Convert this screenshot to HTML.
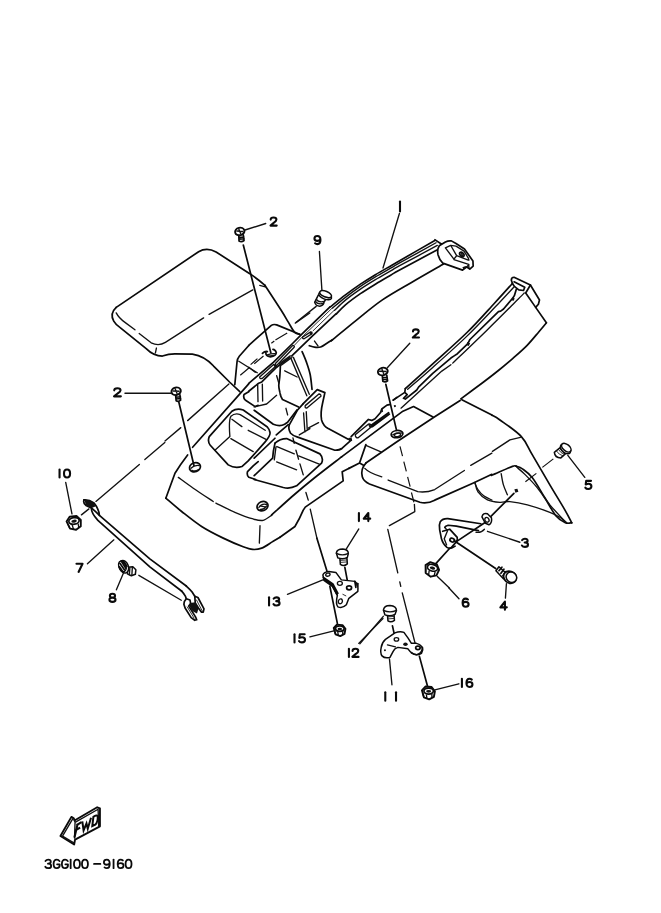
<!DOCTYPE html>
<html><head><meta charset="utf-8"><title>Parts diagram</title>
<style>
html,body{margin:0;padding:0;background:#fff;}
svg{display:block;position:absolute;left:0;top:0;}
svg *{vector-effect:non-scaling-stroke;}
.k{fill:none;stroke:#0a0a0a;stroke-width:1.7;stroke-linecap:round;stroke-linejoin:round;}
.m{fill:none;stroke:#111;stroke-width:1.35;stroke-linecap:round;stroke-linejoin:round;}
.t{fill:none;stroke:#1a1a1a;stroke-width:0.9;stroke-linecap:round;stroke-linejoin:round;}
.d{fill:none;stroke:#111;stroke-width:1.2;stroke-linecap:butt;}
.f{fill:#111;stroke:none;}
.w{fill:#fff;stroke:#0a0a0a;stroke-width:1.5;stroke-linejoin:round;}
.wt{fill:#fff;stroke:#111;stroke-width:1.1;stroke-linejoin:round;}
.g{fill:none;stroke:#0a0a0a;stroke-width:2.1;stroke-linecap:round;stroke-linejoin:round;}
</style></head><body>
<svg width="661" height="913" viewBox="0 0 661 913">
<defs>
<path id="n1" d="M3.5 0 L3.5 10"/>
<path id="n2" d="M0.5 2.6 Q0.5 0 3.5 0 Q6.5 0 6.5 2.6 Q6.5 4.4 4 6.2 L0.3 10 L6.8 10"/>
<path id="n3" d="M0.5 1.6 Q1.5 0 3.5 0 Q6.3 0 6.3 2.4 Q6.3 4.7 3.2 4.7 Q6.7 4.7 6.7 7.3 Q6.7 10 3.5 10 Q1.2 10 0.3 8.3"/>
<path id="n4" d="M5 10 L5 0 L0.2 7 L7 7"/>
<path id="n5" d="M6.3 0 L1.2 0 L0.7 4.5 Q2 3.6 3.6 3.6 Q6.7 3.6 6.7 6.8 Q6.7 10 3.4 10 Q1.2 10 0.3 8.3"/>
<path id="n6" d="M6 1 Q5 0 3.6 0 Q0.4 0 0.4 5 Q0.4 10 3.6 10 Q6.7 10 6.7 6.9 Q6.7 4 3.6 4 Q1.2 4 0.5 6"/>
<path id="n7" d="M0.3 0 L6.7 0 L2.5 10"/>
<path id="n8" d="M3.5 4.7 Q0.8 4.7 0.8 2.3 Q0.8 0 3.5 0 Q6.2 0 6.2 2.3 Q6.2 4.7 3.5 4.7 Q0.3 4.7 0.3 7.4 Q0.3 10 3.5 10 Q6.7 10 6.7 7.4 Q6.7 4.7 3.5 4.7"/>
<path id="n9" d="M1 9 Q2 10 3.4 10 Q6.6 10 6.6 5 Q6.6 0 3.4 0 Q0.3 0 0.3 3.1 Q0.3 6 3.4 6 Q5.8 6 6.5 4"/>
<path id="n0" d="M3.5 0 Q0.3 0 0.3 5 Q0.3 10 3.5 10 Q6.7 10 6.7 5 Q6.7 0 3.5 0 Z"/>
<path id="nG" d="M6.5 1.8 Q5.5 0 3.7 0 Q0.3 0 0.3 5 Q0.3 10 3.7 10 Q6.7 10 6.7 6.5 L6.7 5.5 L4 5.5"/>
<path id="nd" d="M0.5 5 L6.5 5"/>
<g id="nut">
<path d="M-25 -8 L-11 -23 L14 -21 L27 -4 L23 18 L4 28 L-17 20 Z" fill="#fff" stroke="#0a0a0a" stroke-width="1.9" stroke-linejoin="round"/>
<ellipse cx="2" cy="-5" rx="19" ry="12" fill="#fff" stroke="#0a0a0a" stroke-width="1.7"/>
<ellipse cx="2" cy="-4" rx="10" ry="5.5" fill="#111"/>
<path d="M-7 9 L-5 24 M15 7 L15 23 M-22 2 L-18 18" fill="none" stroke="#0a0a0a" stroke-width="1.3"/>
</g>
</defs>
<rect x="0" y="0" width="661" height="913" fill="#ffffff"/>
<g id="a_leftfender" transform="translate(100,220) scale(0.24962)">
<path class="k" d="M65 350 L395 127 Q428 108 465 128 L600 215 Q634 238 661 262"/>
<path class="k" d="M65 350 Q38 375 55 405 Q62 418 82 432 L185 515 Q215 545 250 545 Q275 536 300 536 L370 537 Q420 545 455 585 L520 650 L560 688"/>
<path class="m" d="M65 372 Q75 392 100 410 L140 440 M157 455 L205 492 Q235 507 262 490 L415 392 M437 378 L612 280 M640 262 L662 268"/>
<path class="m" d="M226 513 L222 532"/>
<ellipse class="w" style="stroke-width:1.9" cx="560" cy="46" rx="19" ry="15" transform="rotate(-15 560 46)"/>
<path class="m" d="M548 44 L572 46 M556 36 L564 56"/>
<path class="k" d="M556 62 L557 84 Q567 90 577 82 L574 60 M557 70 L576 68 M557 77 L577 75"/>
<path class="m" d="M581 40 L664 14"/>
<ellipse class="w" style="stroke-width:1.9" cx="305" cy="686" rx="19" ry="15" transform="rotate(-15 305 686)"/>
<path class="m" d="M293 685 L317 686 M301 676 L309 696"/>
<path class="k" d="M303 702 L305 724 Q314 730 323 722 L320 700 M304 710 L322 708 M305 717 L323 715"/>
<path class="m" d="M100 694 L286 694"/>
<use href="#n2" class="g" transform="translate(55,674) scale(4.2,3.25)"/>
<path class="k" d="M596 503 L558 546 Q550 556 549 568 L540 660"/>
<path class="m" d="M556 566 L630 612"/>
<path class="d" d="M562 622 L600 590 M618 576 L655 545"/>
</g>
<g id="b_arm" transform="translate(320,225) scale(0.24962)">
<path class="k" d="M41.0 328.0 C51.2 320.0 81.8 295.2 102.0 280.0 C122.2 264.8 142.0 250.5 162.0 237.0 C182.0 223.5 201.8 211.2 222.0 199.0 C242.2 186.8 266.8 173.3 283.0 164.0 C299.2 154.7 289.5 160.0 319.0 143.0 C348.5 126.0 436.5 75.5 460.0 62.0"/>
<path class="m" d="M50.0 333.0 C58.7 325.8 83.3 304.5 102.0 290.0 C120.7 275.5 142.0 259.7 162.0 246.0 C182.0 232.3 201.8 220.2 222.0 208.0 C242.2 195.8 266.8 182.3 283.0 173.0 C299.2 163.7 288.7 169.0 319.0 152.0 C349.3 135.0 440.7 84.5 465.0 71.0"/>
<path class="m" d="M58.0 342.0 C65.3 335.2 84.7 315.2 102.0 301.0 C119.3 286.8 142.0 270.7 162.0 257.0 C182.0 243.3 201.8 231.2 222.0 219.0 C242.2 206.8 266.8 193.3 283.0 184.0 C299.2 174.7 287.8 180.0 319.0 163.0 C350.2 146.0 444.8 95.5 470.0 82.0"/>
<path class="k" d="M66.0 356.0 C72.0 350.0 86.0 333.5 102.0 320.0 C118.0 306.5 142.0 288.8 162.0 275.0 C182.0 261.2 201.8 249.3 222.0 237.0 C242.2 224.7 266.8 210.5 283.0 201.0 C299.2 191.5 286.8 197.5 319.0 180.0 C351.2 162.5 449.8 110.0 476.0 96.0"/>
<path class="k" d="M45.0 464.0 C62.5 449.7 115.8 405.3 150.0 378.0 C184.2 350.7 213.3 325.0 250.0 300.0 C286.7 275.0 329.2 252.0 370.0 228.0 C410.8 204.0 474.2 168.0 495.0 156.0"/>
</g>
<g id="c_junction" transform="translate(250,310) scale(0.12405)">
<path class="k" d="M120.0 -200.0 C141.7 -166.7 218.3 -50.0 250.0 0.0 C281.7 50.0 291.7 70.0 310.0 100.0 C328.3 130.0 344.7 164.0 360.0 180.0 C375.3 196.0 395.0 193.3 402.0 196.0"/>
<path class="k" d="M400 196 L215 120 Q190 112 172 124 L-10 285"/>
<path class="m" d="M-10 462 L42 502"/>
<path class="d" d="M300 186 L205 242 M196 250 L172 268 M60 392 L5 440"/>
<path class="m" d="M365 106 L482 24"/>
<path class="k" d="M-54 -524 L168 345"/>
<path class="k" d="M100 350 Q120 330 140 335 M128 345 Q125 370 165 378 Q210 372 212 345 Q205 320 185 318"/>
<path class="m" d="M140 362 Q170 350 205 352 M150 372 L195 366"/>
<path class="k" d="M643 -24 L420 192 L345 268 L190 420 L-10 592"/>
<path class="t" d="M661 -14 L432 206 L362 280"/>
<path class="t" d="M677 4 L508 168"/>
<path class="k" d="M693 32 L500 212 L335 372 L232 448 L205 470 L95 580 L70 590 L-10 655"/>
<path class="m" d="M425 218 L490 176 Q505 180 498 192 L436 232 Q420 232 425 218 Z"/>
<path class="f" d="M478 178 L498 176 L502 192 L488 200 Z"/>
<path class="m" d="M205 432 L345 285 Q362 285 356 300 L215 448 Q198 450 205 432 Z"/>
<path class="m" d="M78 540 L190 440 L205 455 L98 552 Q78 558 78 540 Z"/>
<path class="f" d="M190 440 L210 436 L222 460 L205 472 Z"/>
<path class="m" d="M240 430 L322 372 L335 384 L252 444 Q238 446 240 430 Z"/>
<circle class="wt" cx="330" cy="378" r="9"/>
<path class="m" d="M330 390 L458 692 M350 382 L478 680"/>
<path class="k" d="M420.0 335.0 C425.8 349.2 444.2 389.2 455.0 420.0 C465.8 450.8 477.5 483.3 485.0 520.0 C492.5 556.7 497.5 620.0 500.0 640.0"/>
<path class="k" d="M245.0 450.0 C244.2 465.0 242.2 513.3 240.0 540.0 C237.8 566.7 232.0 590.0 232.0 610.0 C232.0 630.0 238.7 651.7 240.0 660.0"/>
<path class="f" d="M236 655 Q250 660 256 700 L244 704 Q232 680 236 655 Z"/>
<path class="k" d="M252 702 L262 722 L392 782"/>
<path class="m" d="M280 490 L380 540"/>
<path class="m" d="M215 530 L232 590"/>
<path class="k" d="M478.0 288.0 C485.0 290.0 504.7 298.3 520.0 300.0 C535.3 301.7 553.3 303.3 570.0 298.0 C586.7 292.7 604.2 277.7 620.0 268.0 C635.8 258.3 657.5 244.7 665.0 240.0"/>
<path class="m" d="M520 250 L548 290"/>
</g>
<g id="d_tileB" transform="translate(265,220) scale(0.24962)">
<use href="#n9" class="g" transform="translate(197,64) scale(3.8,3.25)"/>
<path class="m" d="M218 126 L228 282"/>
<path class="w" d="M214 300 L199 330 Q204 346 222 345 Q236 340 236 330 L250 306 Z"/>
<path class="m" d="M206 318 Q214 332 238 326 M202 326 Q210 340 234 334"/>
<ellipse class="w" cx="241" cy="304" rx="27" ry="13" transform="rotate(22 241 304)"/>
<ellipse class="w" cx="243" cy="297" rx="25" ry="11.5" transform="rotate(22 243 297)"/>
<path class="m" d="M205 346 L125 410"/>
<use href="#n2" class="g" transform="translate(21,-10) scale(3.8,3.25)"/>
<ellipse class="w" style="stroke-width:1.9" cx="472" cy="607" rx="20" ry="15" transform="rotate(-15 472 607)"/>
<path class="m" d="M459 606 L485 607 M468 596 L476 618"/>
<path class="k" d="M470 624 L472 646 Q482 652 491 644 L488 622 M471 632 L489 630 M472 640 L490 638"/>
<use href="#n2" class="g" transform="translate(591,438) scale(3.8,3.25)"/>
<path class="m" d="M580 494 L490 592"/>
<path class="k" d="M484 658 L527 843"/>
</g>
<g id="e_rightarm" transform="translate(440,260) scale(0.18154)">
<path class="k" d="M399 130 L393 112 Q392 96 408 95 L498 138 L548 220 L542 244 L527 261 L586 346"/>
<path class="k" d="M399 130 L411 147 L434 165 L460 168 L467 150 L408 120 M498 138 L472 182 L527 261"/>
<path class="k" d="M396.0 132.0 C380.0 149.7 341.0 193.7 300.0 238.0 C259.0 282.3 206.7 342.3 150.0 398.0 C93.3 453.7 16.8 520.2 -40.0 572.0 C-96.8 623.8 -165.8 686.2 -191.0 709.0"/>
<path class="m" d="M406.0 150.0 C389.2 168.0 347.7 213.3 305.0 258.0 C262.3 302.7 207.5 362.3 150.0 418.0 C92.5 473.7 14.7 543.0 -40.0 592.0 C-94.7 641.0 -155.0 692.0 -178.0 712.0"/>
<path class="k" d="M420 162 L410 196 L398 214 M404 206 L350 270 L334 282 L322 284 L165 438 L152 462 L96 516 L78 528 L60 540 L-40 625 L-118 700 L-128 716 L-191 766 L-201 762 L-181 742 L-194 729 L-191 709 M-194 729 L-258 772"/>
<path class="f" d="M398 205 L412 212 L404 226 L394 220 Z M150 452 L166 458 L158 474 L146 468 Z"/>
<path class="m" d="M464.0 182.0 C458.3 187.7 464.0 182.2 430.0 216.0 C396.0 249.8 320.0 326.3 260.0 385.0 C200.0 443.7 101.7 537.5 70.0 568.0"/>
<path class="m" d="M60 577 L10 612 L-215 816"/>
<path class="k" d="M586.0 346.0 C579.2 354.2 562.7 374.3 545.0 395.0 C527.3 415.7 504.2 445.3 480.0 470.0 C455.8 494.7 426.7 519.7 400.0 543.0 C373.3 566.3 346.7 588.5 320.0 610.0 C293.3 631.5 274.2 646.2 240.0 672.0 C205.8 697.8 135.8 749.5 115.0 765.0"/>
</g>
<g id="f_trayleft" transform="translate(160,395) scale(0.16641)">
<path class="k" d="M533 -67 L196 314 M166 360 Q120 420 90 470 L35 620"/>
<path class="k" d="M35.0 620.0 C50.8 633.3 94.2 671.7 130.0 700.0 C165.8 728.3 208.3 763.3 250.0 790.0 C291.7 816.7 338.3 839.7 380.0 860.0 C421.7 880.3 470.5 900.7 500.0 912.0 C529.5 923.3 538.5 926.7 557.0 928.0 C575.5 929.3 591.0 927.8 611.0 920.0 C631.0 912.2 658.7 891.8 677.0 881.0 C695.3 870.2 713.7 859.3 721.0 855.0"/>
<path class="m" d="M110.0 495.0 C125.0 505.8 165.0 535.8 200.0 560.0 C235.0 584.2 300.0 626.7 320.0 640.0"/>
<path class="m" d="M336.0 650.0 C355.0 659.2 412.7 689.2 450.0 705.0 C487.3 720.8 531.7 737.0 560.0 745.0 C588.3 753.0 601.3 756.8 620.0 753.0 C638.7 749.2 663.3 727.2 672.0 722.0"/>
<path class="m" d="M601 786 L597 890"/>
<ellipse class="k" cx="210" cy="434" rx="34" ry="27" transform="rotate(-20 210 434)"/>
<path class="m" d="M186 440 Q205 420 236 424 M192 452 Q210 462 232 448"/>
<ellipse class="k" cx="616" cy="668" rx="34" ry="27" transform="rotate(-25 616 668)"/>
<path class="m" d="M594 676 Q610 650 640 658 M602 688 Q625 690 640 668 M606 668 L632 672"/>
<path class="k" d="M645 192 L500 90 Q462 76 432 98 L296 250 Q284 278 302 302 L410 420 Q450 444 492 430 L530 396 L632 282 Q668 240 660 222 Q656 204 645 192 Z"/>
<path class="m" d="M632 212 L482 118 Q450 106 426 128 Q412 150 420 250 L330 332 M426 262 L560 340 M432 146 L492 190 M530 212 L640 268"/>
<path class="k" d="M590 400 L560 426 L526 460 Q520 484 534 494 L575 508"/>
<path class="k" d="M533 -19 L505 -3 Q498 20 514 32 L572 70 L590 62"/>
<path class="k" d="M113 42 L204 424"/>
<path class="m" d="M30 276 L125 196 M166 154 L414 -66"/>
</g>
<g id="g_trayright" transform="translate(255,385) scale(0.16641)">
<path class="k" d="M290 112 L374 28 L420 46 L406 110 Q392 170 400 210 Q410 245 440 262 L560 326 L578 330"/>
<path class="m" d="M302 124 L384 54 Q398 54 396 68 L312 138 Q298 140 302 124 Z"/>
<path class="k" d="M290 112 L256 150 L206 240 Q198 262 214 290 Q230 306 252 312 L480 392 Q510 392 524 380 L566 342 L578 328"/>
<path class="m" d="M292 168 L300 282 M308 160 L314 270 M266 300 L330 262 M322 258 L382 226"/>
<path class="k" d="M-5 152 L110 236 Q150 252 178 236 L196 224 L252 150"/>
<path class="m" d="M186 140 L196 180 M16 -5 L18 100 M44 -5 L46 96"/>
<path class="m" d="M-5 132 L70 114 L130 62"/>
<path class="k" d="M-5 440 L120 320 M200 238 L128 300"/>
<path class="k" d="M120 350 Q150 322 190 322 L390 414 Q414 440 400 470 L250 606 Q210 626 170 616 L-5 568"/>
<path class="k" d="M120 350 Q108 400 106 440 L-5 545"/>
<path class="m" d="M132 370 L236 414 M262 426 L386 476 M130 462 L250 510 M126 372 L116 450"/>
<path class="m" d="M228 318 L236 350 M246 392 L262 446 M270 474 L290 540 M306 646 L320 692 M332 746 L372 920"/>
<path class="k" d="M100.0 781.0 C121.7 761.5 186.7 701.5 230.0 664.0 C273.3 626.5 311.7 594.7 360.0 556.0 C408.3 517.3 493.3 452.7 520.0 432.0"/>
<path class="k" d="M150 915 L240 850 Q270 800 290 752 L302 734 L530 576 L524 522 L566 500"/>
<path class="f" d="M560 318 L580 316 L584 336 L566 340 Z"/>
</g>
<g id="h_rfenderL" transform="translate(350,390) scale(0.21180)">
<path class="k" d="M75 345 L225 242 L400 126 L520 50"/>
<path class="k" d="M528 46 L670 118"/>
<path class="k" d="M75 345 Q48 375 58 410 Q64 432 92 444 L330 530 Q366 538 400 520 L580 440 L670 398"/>
<path class="m" d="M70 370 Q90 392 150 410 M180 425 L320 480 Q360 486 400 470 L540 380 M570 356 L670 298"/>
<path class="k" d="M-40 316 L250 100 L300 78 L392 128"/>
<path class="k" d="M75 258 L45 345 L-5 370 M45 345 L66 356"/>
<path class="m" d="M75 262 L146 292"/>
<ellipse class="k" cx="222" cy="208" rx="28" ry="17" transform="rotate(-8 222 208)"/>
<path class="m" d="M202 212 Q222 198 246 204"/><ellipse class="m" cx="224" cy="212" rx="15" ry="8" transform="rotate(-8 224 212)"/>
<path class="d" d="M236 266 L248 312 M254 338 L266 384 M272 410 L284 456 M290 484 L302 530"/>
<path class="m" d="M304 540 L306 574 L186 640"/>
<path class="m" d="M590.0 440.0 C592.3 445.0 597.3 460.3 604.0 470.0 C610.7 479.7 619.0 489.7 630.0 498.0 C641.0 506.3 663.3 516.3 670.0 520.0"/>
</g>
<g id="i_rfenderR" transform="translate(450,380) scale(0.24962)">
<path class="k" d="M168.0 141.0 C173.3 144.2 180.5 145.8 200.0 160.0 C219.5 174.2 263.3 202.7 285.0 226.0 C306.7 249.3 310.8 267.7 330.0 300.0 C349.2 332.3 378.3 383.3 400.0 420.0 C421.7 456.7 445.3 494.7 460.0 520.0 C474.7 545.3 483.3 563.3 488.0 572.0"/>
<path class="k" d="M488.0 572.0 C483.7 572.0 472.5 576.5 462.0 572.0 C451.5 567.5 438.7 561.7 425.0 545.0 C411.3 528.3 395.8 497.5 380.0 472.0 C364.2 446.5 345.0 411.3 330.0 392.0 C315.0 372.7 300.8 363.8 290.0 356.0 C279.2 348.2 269.2 346.8 265.0 345.0"/>
<path class="m" d="M268.0 350.0 C273.3 354.7 286.3 364.3 300.0 378.0 C313.7 391.7 333.3 411.7 350.0 432.0 C366.7 452.3 381.0 477.0 400.0 500.0 C419.0 523.0 453.3 558.3 464.0 570.0"/>
<path class="k" d="M265.0 345.0 C262.5 345.2 264.2 340.8 250.0 346.0 C235.8 351.2 194.0 370.0 180.0 376.0 C166.0 382.0 168.3 381.0 166.0 382.0"/>
<path class="m" d="M282 230 L240 240 L170 286"/>
<path class="m" d="M100.0 410.0 C102.0 416.3 103.7 436.3 112.0 448.0 C120.3 459.7 135.3 473.0 150.0 480.0 C164.7 487.0 185.0 488.8 200.0 490.0 C215.0 491.2 221.7 485.3 240.0 487.0 C258.3 488.7 283.3 492.8 310.0 500.0 C336.7 507.2 378.3 521.7 400.0 530.0 C421.7 538.3 428.7 543.0 440.0 550.0 C451.3 557.0 463.3 568.3 468.0 572.0"/>
<path class="m" d="M205.0 375.0 C206.5 382.5 209.8 405.8 214.0 420.0 C218.2 434.2 227.3 453.3 230.0 460.0"/>
<path class="w" d="M440 272 L418 290 Q420 312 444 312 L462 296 Z"/>
<path class="t" d="M426 284 Q436 300 452 304 M434 278 Q444 294 458 298"/>
<ellipse class="w" cx="463" cy="276" rx="24" ry="15" transform="rotate(40 463 276)"/>
<ellipse class="w" cx="466" cy="271" rx="22" ry="13" transform="rotate(40 466 271)"/>
<path class="m" d="M472 302 L540 390"/>
<use href="#n5" class="g" transform="translate(541,404) scale(3.8,3.25)"/>
<path class="d" d="M414 316 L370 350 M346 374 L302 408"/>
<path class="f" d="M258 438 L270 436 L274 448 L262 452 Z"/>
<path class="k" d="M256 454 L150 560"/>
<path class="w" d="M128 548 Q132 530 150 536 L166 552 Q170 572 156 580 L142 574 Z"/>
<ellipse class="m" cx="148" cy="560" rx="8" ry="10" transform="rotate(-30 148 560)"/>
<path class="m" d="M150 606 L280 650"/>
<use href="#n3" class="g" transform="translate(287,636) scale(3.8,3.25)"/>
<path class="w" d="M196 748 L184 764 L214 796 L232 780 Z"/>
<path class="k" d="M196 764 L208 750 M204 774 L216 758 M212 784 L224 768"/>
<ellipse class="w" style="stroke-width:1.8" cx="240" cy="790" rx="27" ry="23" transform="rotate(40 240 790)"/>
<ellipse class="w" cx="246" cy="790" rx="22" ry="20" transform="rotate(40 246 790)"/>
<path class="m" d="M226 816 L222 874"/>
<use href="#n4" class="g" transform="translate(201,888) scale(3.8,3.25)"/>
<path class="m" d="M-5 832 L36 876"/>
<use href="#n6" class="g" transform="translate(49,876) scale(3.8,3.25)"/>
</g>
<g id="j_strap" transform="translate(40,440) scale(0.24962)">
<use href="#n1" class="g" transform="translate(65,118) scale(3.8,3.25)"/>
<use href="#n0" class="g" transform="translate(95,118) scale(3.8,3.25)"/>
<path class="m" d="M103 170 L128 296"/>
<use href="#nut" transform="translate(135,330) scale(1.1) rotate(-10)"/>
<path class="m" d="M166 300 L196 276"/>
<path class="k" d="M176 240 Q196 238 216 252 Q236 276 238 302 L440 476 L586 585"/>
<path class="k" d="M176 240 Q172 252 184 262 L206 272 Q204 292 232 322 L440 508 L567 605"/>
<path class="f" d="M178 240 Q198 238 216 252 L222 266 L206 272 L184 262 Z"/><path class="k" d="M206 272 L226 290 L238 302"/>
<path class="m" d="M224 246 L398 98 M420 78 L500 10"/>
<use href="#n7" class="g" transform="translate(145,496) scale(3.8,3.25)"/>
<path class="m" d="M190 496 L296 400"/>
<path class="w" d="M352 510 L372 508 L384 520 L382 538 L366 544 L350 536 Z"/>
<path class="m" d="M360 512 L358 540 M370 510 L368 542"/>
<ellipse class="w" cx="336" cy="508" rx="18" ry="26" transform="rotate(-20 336 508)"/>
<ellipse class="w" cx="330" cy="506" rx="14" ry="22" transform="rotate(-20 330 506)"/>
<path class="k" d="M320 494 L338 520 M326 486 L344 514 M318 508 L332 528 M334 486 L348 506"/>
<use href="#n8" class="g" transform="translate(277,616) scale(3.8,3.25)"/>
<path class="m" d="M306 600 L334 534"/>
<path class="m" d="M396 542 L566 642"/>
</g>
<g id="k_brk13" transform="translate(250,500) scale(0.24962)">
<path class="k" d="M268 153 L310 290"/>
<use href="#n1" class="g" transform="translate(423,52) scale(3.8,3.25)"/>
<use href="#n4" class="g" transform="translate(455,52) scale(3.8,3.25)"/>
<path class="m" d="M436 116 L386 196"/>
<path class="w" d="M360 232 L362 258 Q376 268 390 256 L388 230 Z"/>
<path class="t" d="M361 242 L389 240 M362 250 L390 248"/>
<path class="w" d="M346 212 Q348 196 372 196 Q394 198 394 214 L390 230 Q372 240 352 232 Z"/>
<path class="m" d="M346 214 Q370 226 394 214"/>
<path class="k" d="M380 270 L394 344"/>
<path class="w" d="M292 300 Q296 288 316 286 L344 290 L366 320 L420 326 Q436 340 432 366 L396 394 L386 420 Q370 436 352 428 Q342 416 350 382 L330 346 L296 322 Z"/>
<path class="k" d="M294 310 L332 336 L352 374 M296 318 L330 342 L348 378 M420 326 L424 350"/>
<ellipse class="m" cx="312" cy="299" rx="9" ry="6" transform="rotate(-15 312 299)"/>
<ellipse class="m" cx="360" cy="334" rx="10" ry="8"/>
<ellipse class="k" cx="397" cy="352" rx="10" ry="8"/>
<ellipse class="m" cx="362" cy="406" rx="8" ry="10" transform="rotate(20 362 406)"/>
<path class="f" d="M426 330 L436 334 L434 350 L426 346 Z"/>
<path class="t" d="M372 378 L384 384"/>
<use href="#n1" class="g" transform="translate(63,390) scale(3.8,3.25)"/>
<use href="#n3" class="g" transform="translate(93,390) scale(3.8,3.25)"/>
<path class="m" d="M150 378 L292 320"/>
<path class="k" d="M320 346 L350 494"/>
<use href="#nut" transform="translate(358,520) scale(0.9)"/>
<use href="#n1" class="g" transform="translate(165,538) scale(3.8,3.25)"/>
<use href="#n5" class="g" transform="translate(195,538) scale(3.8,3.25)"/>
<path class="m" d="M240 548 L336 524"/>
<use href="#n1" class="g" transform="translate(383,596) scale(3.8,3.25)"/>
<use href="#n2" class="g" transform="translate(409,596) scale(3.8,3.25)"/>
<path class="m" d="M440 576 L534 466"/>
<path class="m" d="M552 118 L592 292 M600 328 L604 346 M610 372 L668 600"/>
</g>
<g id="l_brk11" transform="translate(360,560) scale(0.24962)">
<use href="#nut" transform="translate(287,36) scale(1.1) rotate(15)"/>
<path class="m" d="M310 66 L358 112"/>
<path class="w" d="M110 218 L112 244 Q124 252 138 242 L136 216 Z"/>
<path class="t" d="M111 228 L137 226 M112 236 L138 234"/>
<path class="w" d="M94 200 Q96 182 120 182 Q146 184 146 202 L140 218 Q120 228 100 220 Z"/>
<path class="m" d="M94 202 Q120 214 146 202"/>
<path class="m" d="M92 234 L-5 334"/>
<path class="k" d="M130 264 L138 300"/>
<path class="w" d="M85 350 Q88 330 102 318 L140 292 Q160 284 176 290 L192 312 L206 334 L226 334 Q248 340 250 356 Q246 374 226 380 Q206 376 192 356 L152 350 Q138 354 134 364 L120 390 Q100 396 88 384 Q80 372 85 350 Z"/>
<path class="m" d="M110 340 L142 348"/>
<ellipse class="m" cx="146" cy="318" rx="9" ry="7"/>
<ellipse class="f" cx="182" cy="338" rx="9" ry="7"/>
<ellipse class="f" cx="100" cy="362" rx="4" ry="4"/>
<ellipse class="k" cx="232" cy="352" rx="9" ry="7"/><path class="k" d="M206 372 Q226 386 246 374 Q254 362 250 350"/>
<path class="m" d="M118 396 L128 500"/>
<use href="#n1" class="g" transform="translate(88,530) scale(3.8,3.4)"/>
<use href="#n1" class="g" transform="translate(131,530) scale(3.8,3.4)"/>
<path class="k" d="M238 386 L270 504"/>
<use href="#nut" transform="translate(273,530) scale(1.0)"/>
<path class="m" d="M300 520 L396 496"/>
<use href="#n1" class="g" transform="translate(395,476) scale(3.8,3.25)"/>
<use href="#n6" class="g" transform="translate(425,476) scale(3.8,3.25)"/>
</g>
<g id="m_clamp" transform="translate(420,495) scale(0.15129)">
<path class="k" d="M402 190 L184 156 Q150 154 134 176 Q124 196 130 230 L142 290 Q152 326 178 346 Q200 362 232 338"/>
<path class="k" d="M386 236 L240 206 L186 200 Q168 204 164 214"/>
<path class="k" d="M150 240 L196 226 L246 280 Q250 296 240 310 L204 350"/>
<path class="m" d="M164 214 L182 236 L160 290 L176 330"/>
<ellipse class="k" cx="213" cy="298" rx="16" ry="12" transform="rotate(25 213 298)"/>
<path class="m" d="M370 246 Q404 252 426 226"/>
<path class="k" d="M430 182 L238 310 M198 350 L106 452"/>
<path class="k" d="M226 302 L500 486"/>
</g>
<g id="n_fwd" transform="translate(50,800) scale(0.09077)">
<path class="w" style="stroke-width:1.9" d="M115 396 L236 186 L262 202 L270 226 L520 80 L550 92 L550 290 L276 436 L266 490 Z"/>
<path class="m" d="M138 398 L250 208 M276 246 L530 102 L536 286 M270 226 L276 246 L270 420 M138 398 L262 472"/>
<path d="M302 272 L272 402 M302 272 L338 250 M290 328 L322 310" fill="none" stroke="#0a0a0a" stroke-width="2.1" stroke-linecap="square"/>
<path d="M356 236 L370 336 L402 258 L416 316 L452 196" fill="none" stroke="#0a0a0a" stroke-width="2.0" stroke-linejoin="miter"/>
<path d="M478 186 L466 288 L498 272 Q530 240 526 180 Q516 158 478 186 Z" fill="none" stroke="#0a0a0a" stroke-width="2.0"/>
</g>
<g id="o_text" transform="translate(0,0) scale(1.00000)">
<g class="g" style="stroke-width:1.8">
<use href="#n3" transform="translate(45,859.6) scale(0.92,0.86)"/>
<use href="#nG" transform="translate(53.3,859.6) scale(0.95,0.86)"/>
<use href="#nG" transform="translate(61.6,859.6) scale(0.95,0.86)"/>
<use href="#n1" transform="translate(67.4,859.6) scale(0.93,0.86)"/>
<use href="#n0" transform="translate(73.7,859.6) scale(0.93,0.86)"/>
<use href="#n0" transform="translate(81.7,859.6) scale(0.93,0.86)"/>
<use href="#nd" transform="translate(93.5,859.6) scale(1.05,0.86)"/>
<use href="#n9" transform="translate(103.6,859.6) scale(0.93,0.86)"/>
<use href="#n1" transform="translate(110.3,859.6) scale(0.93,0.86)"/>
<use href="#n6" transform="translate(117.3,859.6) scale(0.93,0.86)"/>
<use href="#n0" transform="translate(125.3,859.6) scale(0.93,0.86)"/>
</g>
<path class="g" d="M400 201.5 L400 211.5"/>
<path class="m" d="M399.4 213.5 L383 268"/>
</g>
<g id="p_rrail" transform="translate(340,380) scale(0.12103)">
<path class="k" d="M92 468 L235 326 L262 334 L290 320 L335 268 L345 240 L388 208 L408 204"/>
<path class="k" d="M440 166 L470 144"/>
<path class="m" d="M126 452 L236 364 Q254 360 260 386 L150 478 Q128 480 126 452 Z"/>
<path class="m" d="M238 368 L250 392 L270 376"/>
<path class="k" d="M258 374 L402 270 M266 386 L408 282"/>
<path class="f" d="M444 208 L460 206 L462 222 L448 226 Z"/>
<path class="f" d="M340 244 L352 238 L356 262 L342 268 Z"/>
</g>
<g id="q_cap" transform="translate(420,225) scale(0.10590)">
<path class="w" style="stroke-width:1.7" d="M136 136 L205 182 L240 160 Q268 146 296 150 L340 175 L420 226 L500 340 L502 388 L470 416 L442 396 L402 426 L215 360 Q184 330 170 280 Q160 230 182 196 L205 182"/>
<path class="m" d="M240 216 L290 192 L340 200 L416 246 L456 312 L462 332 M240 216 L320 322 L346 290 L292 196 M320 326 L460 372 L462 402 M346 290 L456 332 M442 396 L462 372"/>
<ellipse class="k" cx="395" cy="278" rx="25" ry="17" transform="rotate(42 395 278)"/>
<ellipse class="m" cx="397" cy="280" rx="12" ry="8" transform="rotate(42 397 280)"/>
<path class="f" d="M400 400 L430 388 L440 398 L410 422 Z"/>
</g>
<g id="r_fork" transform="translate(150,560) scale(0.12103)">
<path class="k" d="M300 215 Q334 246 348 264 L370 300"/>
<path class="k" d="M260 255 Q284 282 292 298 L300 320"/>
<path class="w" style="stroke-width:1.7" d="M284 342 L300 320 L330 330 L336 360 L320 380 L376 470 L386 494 L370 498 L340 476 L290 396 L280 366 Z"/>
<path class="w" style="stroke-width:1.7" d="M370 300 L396 310 L446 404 L440 430 L424 430 L400 396 L374 356 Z"/>
<path class="f" d="M330 356 L376 350 L402 398 L388 442 L352 424 L324 378 Z"/>
<path class="t" d="M384 330 L430 418 M308 388 L364 480"/>
</g>
</svg>
</body></html>
